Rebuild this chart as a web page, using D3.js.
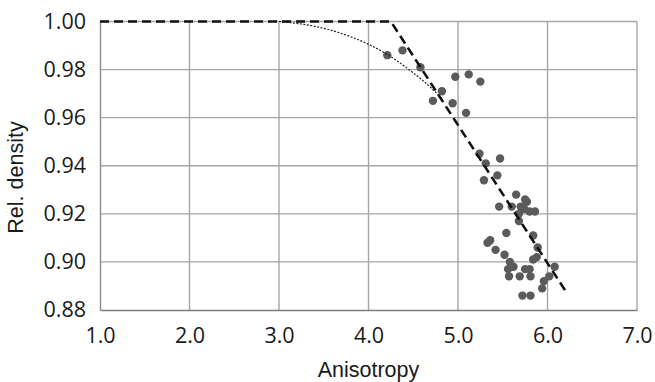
<!DOCTYPE html>
<html>
<head>
<meta charset="utf-8">
<script src="https://cdn.jsdelivr.net/npm/d3@7"></script>
<style>
    body { margin: 0; background: #fff; }
    .tick text { font-family: "Open Sans", sans-serif; fill: #1a1a1a; }
    .title { font-family: "Liberation Sans", Arial, sans-serif; fill: #1a1a1a; }
</style>
</head>
<body>
<div id="chart"></div>
<script>
// measured samples: anisotropy vs relative density
const anisotropy = [4.21, 4.38, 4.58, 4.97, 5.12, 5.25, 4.82, 4.72, 4.94, 5.09,
    5.24, 5.31, 5.47, 5.44, 5.29, 5.65, 5.75, 5.46, 5.60, 5.70,
    5.77, 5.74, 5.80, 5.86, 5.68, 5.68, 5.54, 5.84, 5.36, 5.33,
    5.42, 5.52, 5.89, 5.58, 5.84, 5.88, 5.62, 5.56, 5.75, 5.80,
    6.08, 6.02, 5.96, 5.94, 5.57, 5.69, 5.81, 5.72, 5.81];
const density = [0.986, 0.988, 0.981, 0.977, 0.978, 0.975, 0.971, 0.967, 0.966, 0.962,
    0.945, 0.941, 0.943, 0.936, 0.934, 0.928, 0.926, 0.923, 0.923, 0.923,
    0.925, 0.922, 0.921, 0.921, 0.920, 0.917, 0.912, 0.911, 0.909, 0.908,
    0.905, 0.903, 0.906, 0.900, 0.901, 0.902, 0.898, 0.897, 0.897, 0.897,
    0.898, 0.894, 0.892, 0.889, 0.894, 0.894, 0.894, 0.886, 0.886];

// bilinear bound (thick dashed)
const boundX = [1.0, 4.25, 6.2];
const boundY = [1.00, 1.00, 0.888];

// smooth fit (thin dotted)
const fitX = [3.0, 3.4, 3.7, 4.0, 4.2, 4.43, 4.67, 4.82];
const fitY = [1.000, 0.998, 0.995, 0.9905, 0.9865, 0.9806, 0.9734, 0.968];

const xTicks = [1, 2, 3, 4, 5, 6, 7];
const yTicks = [0.88, 0.90, 0.92, 0.94, 0.96, 0.98, 1.00];

const width = 655;
const height = 382;
const margin = {top: 21.5, bottom: 72, left: 100, right: 18};
const w = width - margin.left - margin.right;
const h = height - margin.top - margin.bottom;

const x = d3.scaleLinear().domain([1, 7]).range([0, w]);
const y = d3.scaleLinear().domain([0.88, 1.00]).range([h, 0]);

const svg = d3.select('#chart')
    .append('svg')
    .attr('width', width)
    .attr('height', height)
    .append('g')
    .attr('transform', `translate(${margin.left},${margin.top})`);

// grid
svg.append('g')
    .attr('class', 'grid')
    .selectAll('line.v')
    .data(xTicks.slice(1))
    .enter().append('line')
    .attr('x1', d => x(d)).attr('x2', d => x(d))
    .attr('y1', 0).attr('y2', h)
    .attr('stroke', '#a6a6a6').attr('stroke-width', 1.4);

svg.append('g')
    .selectAll('line')
    .data(yTicks.slice(1))
    .enter().append('line')
    .attr('x1', 0).attr('x2', w)
    .attr('y1', d => y(d)).attr('y2', d => y(d))
    .attr('stroke', '#a6a6a6').attr('stroke-width', 1.4);

const xAxis = d3.axisBottom(x)
    .tickValues(xTicks)
    .tickFormat(d3.format('.1f'))
    .tickSize(0)
    .tickPadding(18);

const yAxis = d3.axisLeft(y)
    .tickValues(yTicks)
    .tickFormat(d3.format('.2f'))
    .tickSize(0)
    .tickPadding(14);

svg.append('g')
    .attr('class', 'x axis')
    .attr('transform', `translate(0,${h})`)
    .call(xAxis)
    .call(g => g.select('.domain').attr('stroke', '#7f7f7f').attr('stroke-width', 1.6))
    .call(g => g.selectAll('text').attr('font-size', 21.5));

svg.append('g')
    .attr('class', 'y axis')
    .call(yAxis)
    .call(g => g.select('.domain').attr('stroke', '#8c8c8c').attr('stroke-width', 1.4))
    .call(g => g.selectAll('text').attr('font-size', 21.5));

// points
svg.selectAll('.dot')
    .data(anisotropy.map((a, i) => ({a: a, d: density[i]})))
    .enter().append('circle')
    .attr('class', 'dot')
    .attr('cx', d => x(d.a))
    .attr('cy', d => y(d.d))
    .attr('r', 4.2)
    .style('fill', '#5b5b5b');

const line = d3.line()
    .x(d => x(d[0]))
    .y(d => y(d[1]));

svg.append('path')
    .datum(fitX.map((v, i) => [v, fitY[i]]))
    .attr('fill', 'none')
    .attr('stroke', '#222')
    .attr('stroke-width', 1.2)
    .attr('stroke-dasharray', '2,1.5')
    .attr('d', line.curve(d3.curveMonotoneX));

svg.append('path')
    .datum(boundX.map((v, i) => [v, boundY[i]]))
    .attr('fill', 'none')
    .attr('stroke', '#111')
    .attr('stroke-width', 2.6)
    .attr('stroke-dasharray', '9,5')
    .attr('d', line.curve(d3.curveLinear));

// axis titles
svg.append('text')
    .attr('class', 'title')
    .attr('x', w / 2)
    .attr('y', h + 67)
    .attr('text-anchor', 'middle')
    .attr('font-size', 21.5)
    .text('Anisotropy');

svg.append('text')
    .attr('class', 'title')
    .attr('transform', `translate(${-77},${156}) rotate(-90)`)
    .attr('text-anchor', 'middle')
    .attr('font-size', 21.5)
    .text('Rel. density');
</script>
</body>
</html>
